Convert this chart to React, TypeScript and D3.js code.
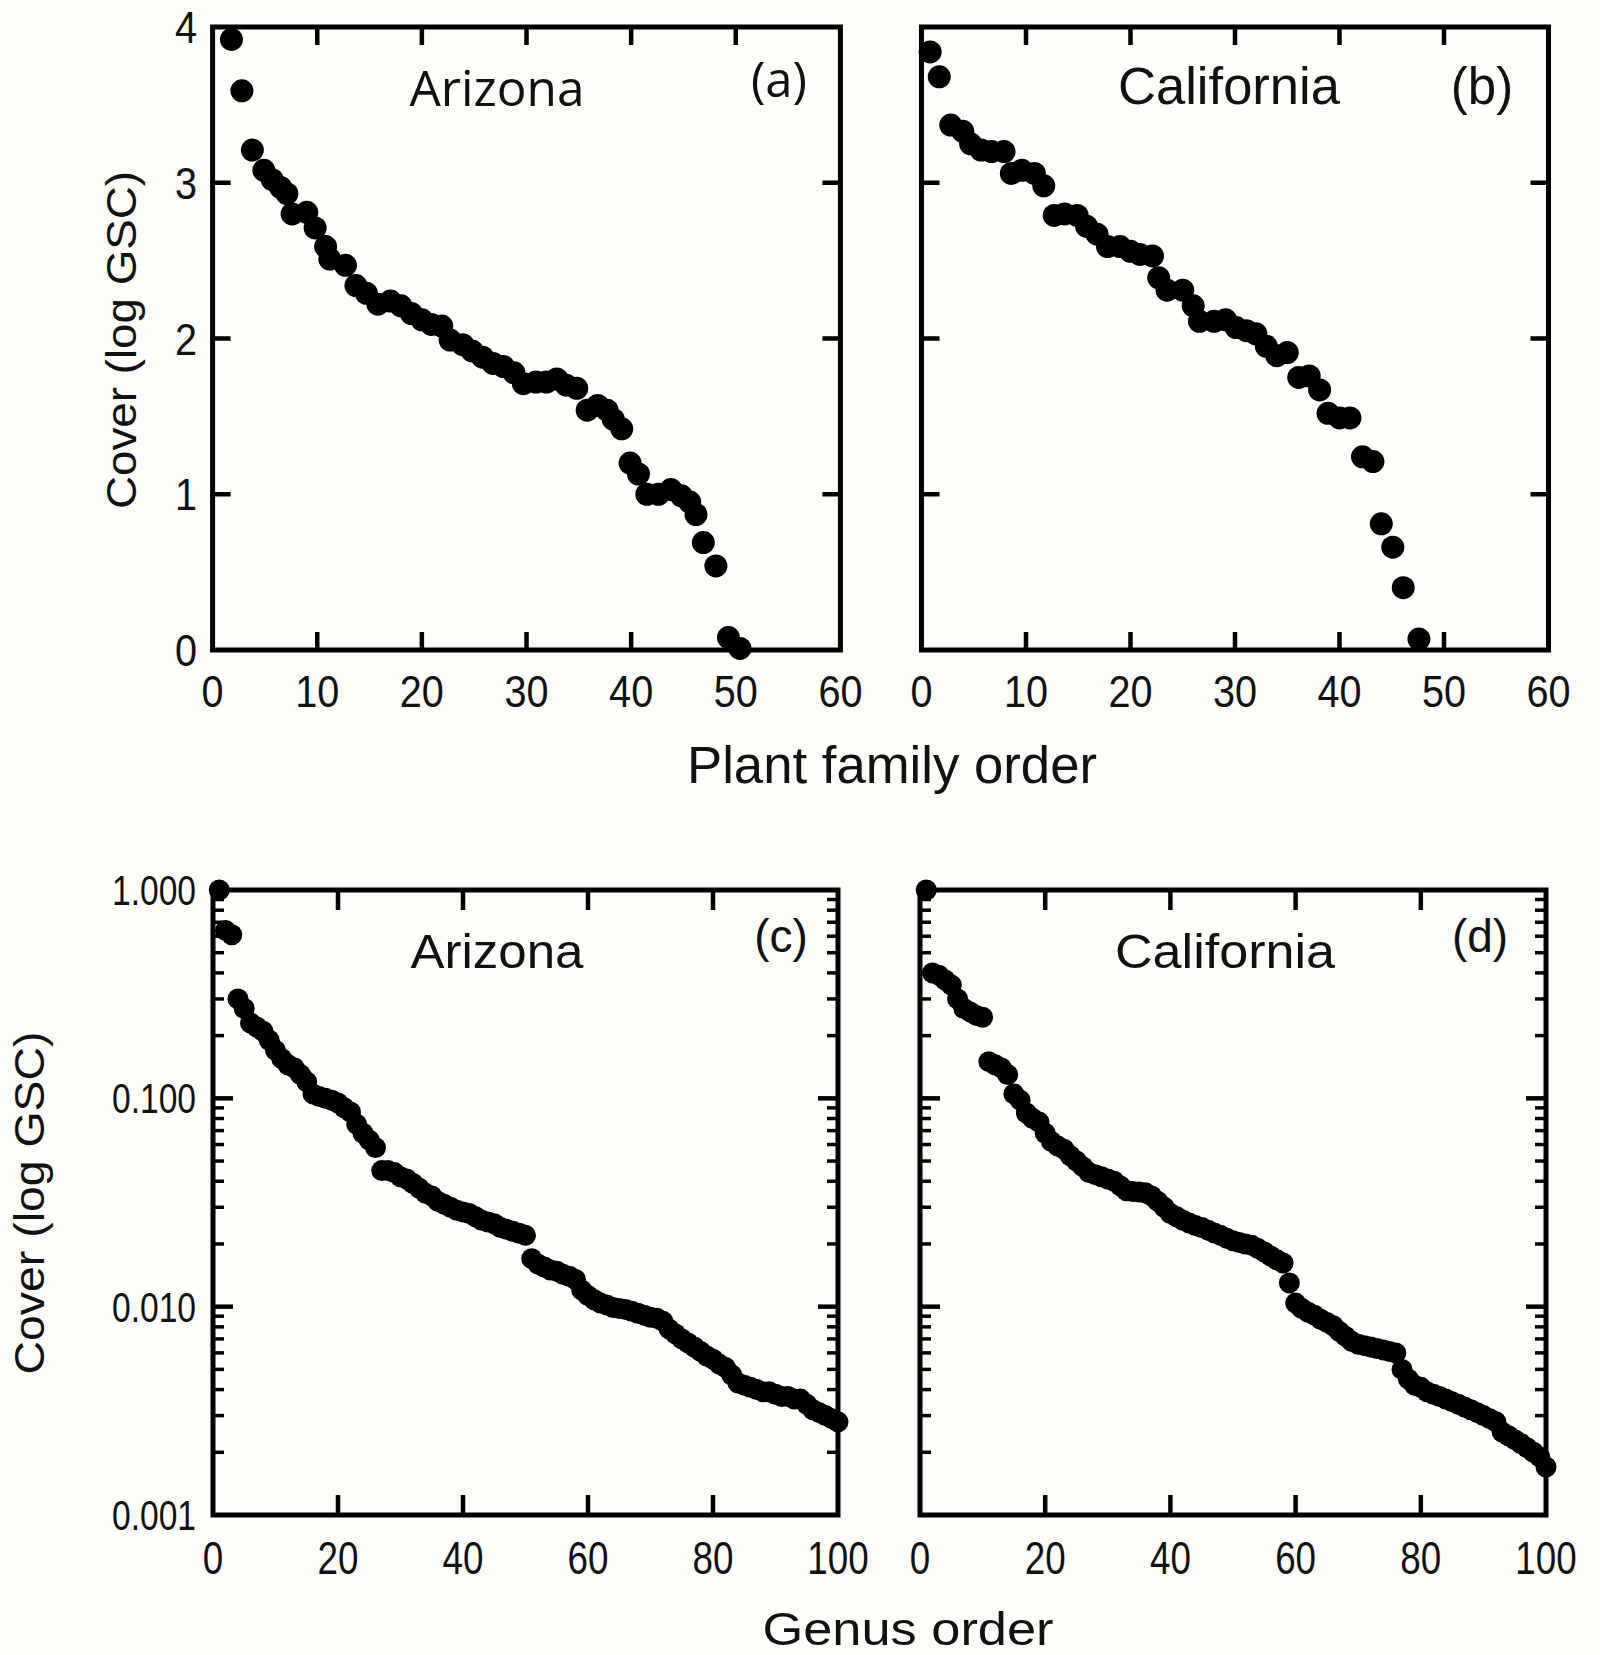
import React from 'react';
import * as d3 from 'd3';

// ---------- data ----------
const familyXTicks = [0, 10, 20, 30, 40, 50, 60];
const familyYTicks = [0, 1, 2, 3, 4];
const genusXTicks = [0, 20, 40, 60, 80, 100];
const genusYTicks = [1, 0.1, 0.01, 0.001];
const genusYLabels = ['1.000', '0.100', '0.010', '0.001'];

// (a) Arizona, plant family order
const azFamX = [1.8, 2.8, 3.8, 4.9, 5.7, 6.5, 7.1, 7.6, 9.0, 9.8, 10.8, 11.2, 12.7, 13.7, 14.7, 15.8, 17.0, 18.0, 19.0, 20.0, 20.9, 21.9, 22.7, 23.9, 24.8, 25.8, 26.8, 27.8, 28.8, 29.7, 30.9, 31.9, 32.9, 33.8, 34.8, 35.8, 36.8, 37.7, 38.3, 39.1, 39.9, 40.7, 41.5, 42.6, 43.8, 44.8, 45.6, 46.2, 46.9, 48.1, 49.3, 50.4];
const azFamY = [3.92, 3.59, 3.21, 3.08, 3.02, 2.97, 2.93, 2.80, 2.81, 2.71, 2.59, 2.51, 2.47, 2.34, 2.29, 2.22, 2.24, 2.21, 2.16, 2.12, 2.09, 2.08, 1.99, 1.96, 1.92, 1.88, 1.84, 1.82, 1.78, 1.71, 1.72, 1.72, 1.74, 1.70, 1.68, 1.54, 1.57, 1.54, 1.48, 1.42, 1.20, 1.13, 1.00, 1.00, 1.03, 0.99, 0.95, 0.87, 0.69, 0.54, 0.08, 0.01];

// (b) California, plant family order
const caFamX = [0.83, 1.7, 2.8, 3.95, 4.7, 5.7, 6.7, 7.9, 8.6, 9.6, 10.8, 11.7, 12.7, 13.7, 14.9, 15.8, 16.8, 17.8, 19.0, 20.0, 20.9, 22.1, 22.7, 23.5, 25.0, 26.0, 26.6, 28.0, 29.1, 30.1, 31.1, 32.0, 33.0, 34.0, 35.0, 36.1, 37.1, 38.1, 38.9, 40.0, 41.0, 42.2, 43.2, 44.0, 45.1, 46.1, 47.6];
const caFamY = [3.84, 3.68, 3.37, 3.33, 3.25, 3.21, 3.20, 3.20, 3.06, 3.08, 3.06, 2.98, 2.79, 2.80, 2.79, 2.72, 2.67, 2.59, 2.59, 2.56, 2.54, 2.53, 2.39, 2.31, 2.31, 2.21, 2.11, 2.11, 2.12, 2.07, 2.05, 2.03, 1.95, 1.89, 1.91, 1.75, 1.76, 1.67, 1.52, 1.49, 1.49, 1.24, 1.21, 0.81, 0.66, 0.40, 0.07];

// (c) Arizona, genus order (ranks 1..100)
const azGenusY = [
  1.0, 0.64, 0.61, 0.30, 0.27, 0.23, 0.22, 0.21, 0.19, 0.17,
  0.155, 0.145, 0.14, 0.13, 0.12, 0.105, 0.102, 0.10, 0.098, 0.095,
  0.09, 0.086, 0.075, 0.068, 0.063, 0.058, 0.045, 0.045, 0.044, 0.042,
  0.041, 0.039, 0.037, 0.035, 0.034, 0.032, 0.031, 0.030, 0.029, 0.0285,
  0.028, 0.027, 0.026, 0.0255, 0.025, 0.024, 0.0235, 0.023, 0.0225, 0.022,
  0.017, 0.016, 0.0155, 0.015, 0.0148, 0.0143, 0.014, 0.0135, 0.012, 0.0113,
  0.0108, 0.0104, 0.0102, 0.0099, 0.0098, 0.0097, 0.0095, 0.0093, 0.0091, 0.0089,
  0.0088, 0.0085, 0.0078, 0.0074, 0.0070, 0.0067, 0.0064, 0.0061, 0.0058, 0.0056,
  0.0053, 0.0051, 0.0047, 0.0043, 0.0042, 0.0041, 0.0040, 0.0039, 0.0039, 0.0038,
  0.0037, 0.0037, 0.0036, 0.0036, 0.0034, 0.0032, 0.0031, 0.0030, 0.0029, 0.0028,
];

// (d) California, genus order (ranks 1..100)
const caGenusY = [
  1.0, 0.40, 0.39, 0.37, 0.35, 0.30, 0.27, 0.26, 0.25, 0.245,
  0.15, 0.145, 0.14, 0.13, 0.105, 0.098, 0.085, 0.080, 0.077, 0.068,
  0.062, 0.059, 0.057, 0.053, 0.050, 0.047, 0.044, 0.043, 0.042, 0.041,
  0.040, 0.038, 0.036, 0.0357, 0.0355, 0.0352, 0.034, 0.032, 0.030, 0.028,
  0.027, 0.026, 0.0252, 0.0245, 0.024, 0.0233, 0.0226, 0.022, 0.0213, 0.0207,
  0.0203, 0.020, 0.0197, 0.019, 0.0183, 0.0175, 0.0168, 0.0162, 0.0130, 0.0104,
  0.0098, 0.0094, 0.0091, 0.0087, 0.0084, 0.0081, 0.0076, 0.0072, 0.0068, 0.0066,
  0.0065, 0.0064, 0.0063, 0.0062, 0.0061, 0.0060, 0.0050, 0.0045, 0.0042, 0.0041,
  0.0039, 0.0038, 0.0037, 0.0036, 0.0035, 0.0034, 0.0033, 0.0032, 0.0031, 0.0030,
  0.0029, 0.0028, 0.0025, 0.0024, 0.0023, 0.0022, 0.0021, 0.0020, 0.0019, 0.0017,
];

// ---------- styles ----------
const SANS = "'Liberation Sans', Arial, sans-serif";
const OPEN = "'Open Sans', 'DejaVu Sans', sans-serif";
const AXIS_W = 5;
const TICK_W = 4.5;

type TopProps = {
  left: number; right: number;
  xs: number[]; ys: number[]; showY: boolean;
  region: string; regionFont: string; regionSize: number; regionX: number; regionY: number; regionLen: number;
  tag: string; tagFont: string; tagX: number; tagY: number;
};

function FamilyPanel(p: TopProps) {
  const x = d3.scaleLinear().domain([0, 60]).range([p.left, p.right]);
  const y = d3.scaleLinear().domain([0, 4]).range([650, 27]);
  const T = 18;
  const inner = [10, 20, 30, 40, 50];
  const innerY = [1, 2, 3];
  return (
    <g>
      <rect x={p.left} y={y(4)} width={p.right - p.left} height={y(0) - y(4)} fill="none" stroke="#000" strokeWidth={AXIS_W} />
      {inner.map((t) => (
        <g key={'x' + t}>
          <line x1={x(t)} x2={x(t)} y1={y(0)} y2={y(0) - T} stroke="#000" strokeWidth={TICK_W} />
          <line x1={x(t)} x2={x(t)} y1={y(4)} y2={y(4) + T} stroke="#000" strokeWidth={TICK_W} />
        </g>
      ))}
      {innerY.map((t) => (
        <g key={'y' + t}>
          <line x1={p.left} x2={p.left + T} y1={y(t)} y2={y(t)} stroke="#000" strokeWidth={TICK_W} />
          <line x1={p.right} x2={p.right - T} y1={y(t)} y2={y(t)} stroke="#000" strokeWidth={TICK_W} />
        </g>
      ))}
      {familyXTicks.map((t) => (
        <text key={'xl' + t} transform={`translate(${x(t)},707) scale(0.88,1)`} textAnchor="middle" fontFamily={SANS} fontSize={45} fill="#111">{t}</text>
      ))}
      {p.showY && familyYTicks.map((t) => (
        <text key={'yl' + t} transform={`translate(197,${y(t) + 16}) scale(0.88,1)`} textAnchor="end" fontFamily={SANS} fontSize={45} fill="#111">{t}</text>
      ))}
      {p.xs.map((v, i) => (
        <circle key={'pt' + i} cx={x(v)} cy={y(p.ys[i])} r={11.5} fill="#000" />
      ))}
      <text x={p.regionX} y={p.regionY} textAnchor="middle" fontFamily={p.regionFont} fontSize={p.regionSize} textLength={p.regionLen} lengthAdjust="spacingAndGlyphs" fill="#111">{p.region}</text>
      <text x={p.tagX} y={p.tagY} textAnchor="middle" fontFamily={p.tagFont} fontSize={p.regionSize} fill="#111">{p.tag}</text>
    </g>
  );
}

type BottomProps = {
  left: number; right: number; ys: number[]; showY: boolean;
  region: string; regionX: number; regionY: number; regionLen: number;
  tag: string; tagX: number; tagY: number;
};

function GenusPanel(p: BottomProps) {
  const x = d3.scaleLinear().domain([0, 100]).range([p.left, p.right]);
  const y = d3.scaleLog().domain([0.001, 1]).range([1515, 890]);
  const T = 20;
  const t2 = 11;
  const minors: number[] = [];
  [0.001, 0.01, 0.1].forEach((d) => { for (let k = 2; k <= 9; k++) minors.push(d * k); });
  return (
    <g>
      <rect x={p.left} y={y(1)} width={p.right - p.left} height={y(0.001) - y(1)} fill="none" stroke="#000" strokeWidth={AXIS_W} />
      {[20, 40, 60, 80].map((t) => (
        <g key={'x' + t}>
          <line x1={x(t)} x2={x(t)} y1={y(0.001)} y2={y(0.001) - T} stroke="#000" strokeWidth={TICK_W} />
          <line x1={x(t)} x2={x(t)} y1={y(1)} y2={y(1) + T} stroke="#000" strokeWidth={TICK_W} />
        </g>
      ))}
      {[0.1, 0.01].map((t) => (
        <g key={'ym' + t}>
          <line x1={p.left} x2={p.left + T} y1={y(t)} y2={y(t)} stroke="#000" strokeWidth={TICK_W} />
          <line x1={p.right} x2={p.right - T} y1={y(t)} y2={y(t)} stroke="#000" strokeWidth={TICK_W} />
        </g>
      ))}
      {minors.map((t, i) => (
        <g key={'mn' + i}>
          <line x1={p.left} x2={p.left + t2} y1={y(t)} y2={y(t)} stroke="#000" strokeWidth={3.5} />
          <line x1={p.right} x2={p.right - t2} y1={y(t)} y2={y(t)} stroke="#000" strokeWidth={3.5} />
        </g>
      ))}
      {genusXTicks.map((t) => (
        <text key={'xl' + t} transform={`translate(${x(t)},1574) scale(0.8,1)`} textAnchor="middle" fontFamily={SANS} fontSize={46} fill="#111">{t}</text>
      ))}
      {p.showY && genusYTicks.map((t, i) => (
        <text key={'yl' + t} transform={`translate(196,${y(t) + 15}) scale(0.8,1)`} textAnchor="end" fontFamily={SANS} fontSize={42} fill="#111">{genusYLabels[i]}</text>
      ))}
      {p.ys.map((v, i) => (
        <circle key={'pt' + i} cx={x(i + 1)} cy={y(v)} r={10.5} fill="#000" />
      ))}
      <text x={p.regionX} y={p.regionY} textAnchor="middle" fontFamily={SANS} fontSize={48} textLength={p.regionLen} lengthAdjust="spacingAndGlyphs" fill="#111">{p.region}</text>
      <text x={p.tagX} y={p.tagY} textAnchor="middle" fontFamily={SANS} fontSize={46} fill="#111">{p.tag}</text>
    </g>
  );
}

export default function App() {
  return (
    <div style={{ position: 'absolute', left: 0, top: 0 }}>
      <svg width={1600} height={1655} viewBox="0 0 1600 1655" style={{ display: 'block', background: '#fdfdfa' }}>
        <rect x={0} y={0} width={1600} height={1655} fill="#fdfdfa" />
        <FamilyPanel left={212.6} right={840.4} xs={azFamX} ys={azFamY} showY={true}
          region="Arizona" regionFont={OPEN} regionSize={49} regionX={497} regionY={106} regionLen={175}
          tag="(a)" tagFont={OPEN} tagX={779} tagY={97} />
        <FamilyPanel left={921.5} right={1548.5} xs={caFamX} ys={caFamY} showY={false}
          region="California" regionFont={SANS} regionSize={51} regionX={1229} regionY={104} regionLen={222}
          tag="(b)" tagFont={SANS} tagX={1482} tagY={104} />
        <GenusPanel left={213} right={838} ys={azGenusY} showY={true}
          region="Arizona" regionX={497} regionY={968} regionLen={173}
          tag="(c)" tagX={781} tagY={952} />
        <GenusPanel left={920} right={1546} ys={caGenusY} showY={false}
          region="California" regionX={1225} regionY={968} regionLen={220}
          tag="(d)" tagX={1480} tagY={952} />
        <text x={892} y={783} textAnchor="middle" fontFamily={SANS} fontSize={51} textLength={410} lengthAdjust="spacingAndGlyphs" fill="#111">Plant family order</text>
        <text x={908} y={1645} textAnchor="middle" fontFamily={SANS} fontSize={46} textLength={291} lengthAdjust="spacingAndGlyphs" fill="#111">Genus order</text>
        <text transform="translate(136,340) rotate(-90)" textAnchor="middle" fontFamily={SANS} fontSize={42} textLength={338} lengthAdjust="spacingAndGlyphs" fill="#111">Cover (log GSC)</text>
        <text transform="translate(44,1203) rotate(-90)" textAnchor="middle" fontFamily={SANS} fontSize={42} textLength={343} lengthAdjust="spacingAndGlyphs" fill="#111">Cover (log GSC)</text>
      </svg>
    </div>
  );
}
